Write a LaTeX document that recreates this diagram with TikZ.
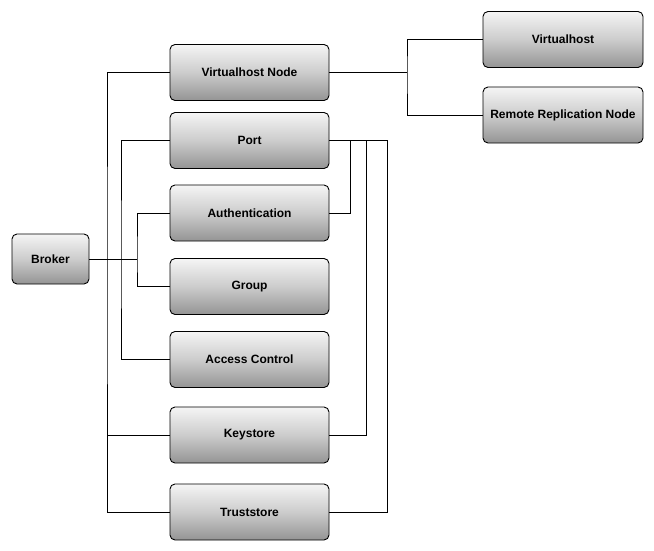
\documentclass[tikz,border=0pt]{standalone}
\usepackage{fontspec}
\setmainfont{Liberation Sans}
\begin{document}
\begin{tikzpicture}[x=1pt,y=-1pt,
  box/.style={draw=black, line width=0.9pt, rounded corners=5pt, minimum width=159pt, minimum height=56pt,
    top color=white!96!black, bottom color=black!42, middle color=white!80!black,
    font=\fontsize{12}{14}\selectfont\bfseries, inner sep=0pt},
  smallbox/.style={box, minimum width=77pt, minimum height=50pt},
  conn/.style={draw=black, line width=0.9pt}]
\useasboundingbox (0,0) rectangle (654,551);
\node[smallbox] (broker) at (50.5,259) {Broker};
\node[box] (vhn) at (249.5,72.5) {Virtualhost Node};
\node[box] (port) at (249.5,140.5) {Port};
\node[box] (auth) at (249.5,213) {Authentication};
\node[box] (group) at (249.5,286.5) {Group};
\node[box] (acl) at (249.5,359.5) {Access Control};
\node[box] (key) at (249.5,435) {Keystore};
\node[box] (trust) at (249.5,512) {Truststore};
\node[box, minimum width=160pt] (vh) at (563,39.5) {Virtualhost};
\node[box, minimum width=160pt] (rrn) at (563,115) {Remote Replication Node};
% broker connections
\coordinate (bj) at (137,259);
\draw[conn] (broker.east) -- (bj);
\draw[conn] (vhn.west) -| (107,259) |- (trust.west);
\draw[conn] (107,435) -- (key.west);
\draw[conn] (port.west) -| (121,259) |- (acl.west);
\draw[conn] (auth.west) -| (bj) |- (group.west);
% port connections
\draw[conn] (port.east) -- (387,140.5) |- (trust.east);
\draw[conn] (350,140.5) |- (auth.east);
\draw[conn] (366,140.5) |- (key.east);
% vhn connections
\draw[conn] (vhn.east) -- (407,72.5);
\draw[conn] (vh.west) -| (407,72.5) |- (rrn.west);
\end{tikzpicture}
\end{document}
